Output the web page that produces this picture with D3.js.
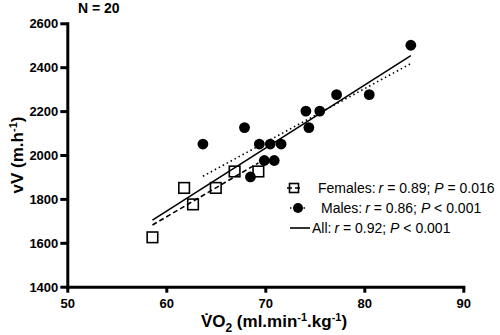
<!DOCTYPE html>
<html>
<head>
<meta charset="utf-8">
<script src="https://cdn.jsdelivr.net/npm/d3@7"></script>
<style>
  body { margin: 0; background: #fff; }
  svg { display: block; font-family: "Liberation Sans", Arial, Helvetica, sans-serif; }
</style>
</head>
<body>
<div id="chart"></div>
<script>
// VO2 (ml/min/kg) and vV (m/h) per subject
const femalesVO2 = [58.6, 61.8, 62.7, 65.0, 66.9, 69.3];
const femalesVV = [1625, 1850, 1775, 1850, 1925, 1925];
const malesVO2 = [63.7, 67.9, 68.5, 69.4, 69.9, 70.5, 70.9, 71.6, 74.1, 74.4, 75.5, 77.2, 80.5, 84.7];
const malesVV = [2050, 2125, 1900, 2050, 1975, 2050, 1975, 2050, 2200, 2125, 2200, 2275, 2275, 2500];
const xTicks = [50, 60, 70, 80, 90];
const yTicks = [1400, 1600, 1800, 2000, 2200, 2400, 2600];
const legendNames = ["Females:", "Males:", "All:"];
const legendR = ["0.89", "0.86", "0.92"];
const legendP = ["= 0.016", "< 0.001", "< 0.001"];

const width = 500, height = 335;

const svg = d3.select("#chart").append("svg")
  .attr("width", width)
  .attr("height", height);

const x = d3.scaleLinear().domain([50, 90]).range([67.3, 463.3]);
const y = d3.scaleLinear().domain([1400, 2600]).range([286.7, 23.3]);

const females = femalesVO2.map((v, i) => ({ x: v, y: femalesVV[i] }));
const males = malesVO2.map((v, i) => ({ x: v, y: malesVV[i] }));
const all = females.concat(males);

// least squares fit over the range of the group
function fit(pts) {
  const mx = d3.mean(pts, d => d.x), my = d3.mean(pts, d => d.y);
  const sxy = d3.sum(pts, d => (d.x - mx) * (d.y - my));
  const sxx = d3.sum(pts, d => (d.x - mx) ** 2);
  const b = sxy / sxx, a = my - b * mx;
  const [x0, x1] = d3.extent(pts, d => d.x);
  return [[x0, a + b * x0], [x1, a + b * x1]];
}

const line = d3.line().x(d => x(d[0])).y(d => y(d[1]));

const fits = [
  { pts: females, dash: "5,3" },
  { pts: males, dash: "1.5,3" },
  { pts: all, dash: null }
];

svg.append("g").selectAll("path")
  .data(fits)
  .join("path")
  .attr("d", d => line(fit(d.pts)))
  .attr("fill", "none")
  .attr("stroke", "#000")
  .attr("stroke-width", 1.6)
  .attr("stroke-dasharray", d => d.dash);

// axes
const xAxis = svg.append("g")
  .attr("transform", `translate(0,${y(1400)})`)
  .call(d3.axisBottom(x).tickValues(xTicks).tickFormat(d3.format("d"))
    .tickSize(6).tickSizeOuter(0).tickPadding(6));

const yAxis = svg.append("g")
  .attr("transform", `translate(${x(50)},0)`)
  .call(d3.axisLeft(y).tickValues(yTicks).tickFormat(d3.format("d"))
    .tickSize(7).tickSizeOuter(0).tickPadding(2));

[xAxis, yAxis].forEach(g => {
  g.select(".domain").attr("stroke-width", 3).attr("stroke-linecap", "square");
  g.selectAll(".tick line").attr("stroke-width", 3);
  g.selectAll(".tick text")
    .attr("font-size", 13)
    .attr("font-weight", "bold")
    .attr("font-family", "'Liberation Sans', Arial, sans-serif")
    .attr("fill", "#000");
});
yAxis.selectAll(".tick text").attr("dy", "0.36em");

// points
svg.append("g").selectAll("rect")
  .data(females)
  .join("rect")
  .attr("x", d => x(d.x) - 5.3)
  .attr("y", d => y(d.y) - 5.3)
  .attr("width", 10.6)
  .attr("height", 10.6)
  .attr("fill", "none")
  .attr("stroke", "#000")
  .attr("stroke-width", 1.6);

svg.append("g").selectAll("circle")
  .data(males)
  .join("circle")
  .attr("cx", d => x(d.x))
  .attr("cy", d => y(d.y))
  .attr("r", 5.4)
  .attr("fill", "#000");

// title
svg.append("text")
  .attr("x", 78)
  .attr("y", 13)
  .attr("font-size", 14)
  .attr("font-weight", "bold")
  .text("N = 20");

// axis titles
const xTitle = svg.append("text")
  .attr("x", 274)
  .attr("y", 327)
  .attr("text-anchor", "middle")
  .attr("font-size", 17)
  .attr("font-weight", "bold");
xTitle.append("tspan").text("V\u0307O");
xTitle.append("tspan").attr("font-size", 12).attr("dy", 5).text("2");
xTitle.append("tspan").attr("dy", -5).text(" (ml.min");
xTitle.append("tspan").attr("font-size", 11).attr("dy", -6).text("-1");
xTitle.append("tspan").attr("dy", 6).text(".kg");
xTitle.append("tspan").attr("font-size", 11).attr("dy", -6).text("-1");
xTitle.append("tspan").attr("dy", 6).text(")");

const yTitle = svg.append("text")
  .attr("transform", "translate(23,155) rotate(-90)")
  .attr("text-anchor", "middle")
  .attr("font-size", 17)
  .attr("font-weight", "bold");
yTitle.append("tspan").text("vV (m.h");
yTitle.append("tspan").attr("font-size", 11).attr("dy", -6).text("-1");
yTitle.append("tspan").attr("dy", 6).text(")");

// legend
const legendRowY = [188, 208, 228];
const legendTextX = [318, 321, 312];

const legend = svg.append("g").selectAll("g")
  .data(legendNames)
  .join("g")
  .attr("transform", (d, i) => `translate(0,${legendRowY[i]})`);

legend.append("line")
  .attr("x1", (d, i) => i === 0 ? 287 : 290)
  .attr("x2", (d, i) => i === 0 ? 302 : (i === 1 ? 306 : 310))
  .attr("stroke", "#000")
  .attr("stroke-width", 1.6)
  .attr("stroke-dasharray", (d, i) => fits[i].dash);

legend.filter((d, i) => i === 0).append("rect")
  .attr("x", 289.5).attr("y", -4.5)
  .attr("width", 9).attr("height", 9)
  .attr("fill", "none")
  .attr("stroke", "#000")
  .attr("stroke-width", 1.6);

legend.filter((d, i) => i === 1).append("circle")
  .attr("cx", 298).attr("cy", 0).attr("r", 5)
  .attr("fill", "#000");

const lt = legend.append("text")
  .attr("x", (d, i) => legendTextX[i])
  .attr("y", 5)
  .attr("font-size", 14);
lt.append("tspan").text(d => d);
lt.append("tspan").attr("font-style", "italic").attr("dx", 3).text("r");
lt.append("tspan").text((d, i) => " = " + legendR[i] + "; ");
lt.append("tspan").attr("font-style", "italic").text("P");
lt.append("tspan").text((d, i) => " " + legendP[i]);
</script>
</body>
</html>
